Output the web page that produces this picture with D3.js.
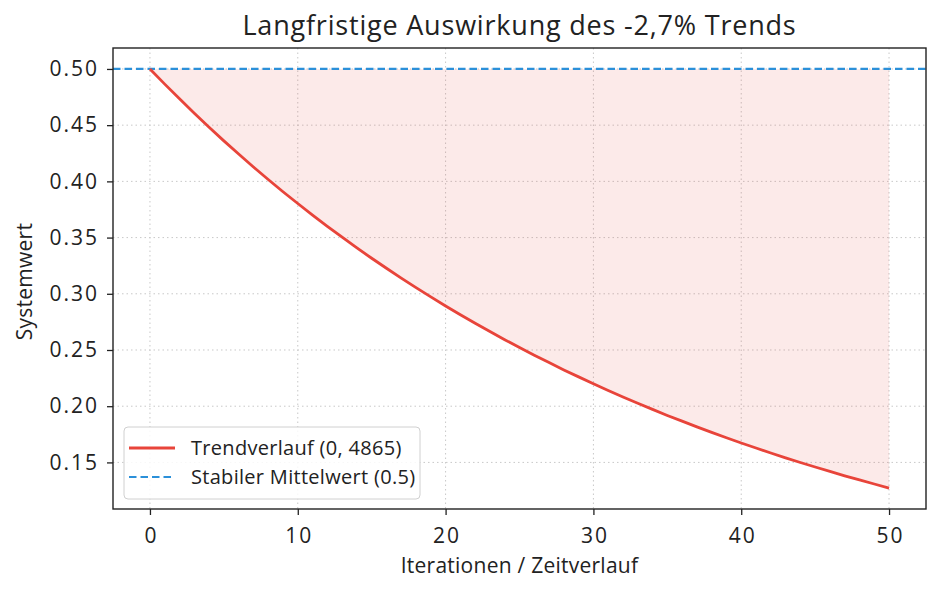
<!DOCTYPE html>
<html>
<head>
<meta charset="utf-8">
<script src="https://cdn.jsdelivr.net/npm/d3@7"></script>
<style>
  body { margin: 0; background: #fff; }
  svg { font-family: "Open Sans", "DejaVu Sans", sans-serif; }
</style>
</head>
<body>
<div id="chart"></div>
<script>
const trendColor = "#e8443a";
const meanColor = "#2b90d9";

// iterations 0..50 and the read-off system value per iteration
const iterations = d3.range(0, 51);
const trendValues = [
    0.5000, 0.4865, 0.4734, 0.4606, 0.4481, 0.4360, 0.4243, 0.4128, 0.4017, 0.3908,
    0.3803, 0.3700, 0.3600, 0.3503, 0.3408, 0.3316, 0.3227, 0.3140, 0.3055, 0.2972,
    0.2892, 0.2814, 0.2738, 0.2664, 0.2592, 0.2522, 0.2454, 0.2388, 0.2323, 0.2261,
    0.2200, 0.2140, 0.2082, 0.2026, 0.1972, 0.1918, 0.1867, 0.1816, 0.1767, 0.1719,
    0.1673, 0.1628, 0.1584, 0.1541, 0.1499, 0.1459, 0.1420, 0.1381, 0.1344, 0.1308,
    0.1272
];
const stableMean = 0.5;
const xTicks = [0, 10, 20, 30, 40, 50];
const yTicks = [0.15, 0.20, 0.25, 0.30, 0.35, 0.40, 0.45, 0.50];
const legendLabels = ["Trendverlauf (0, 4865)", "Stabiler Mittelwert (0.5)"];

const totalWidth = 941, totalHeight = 592;
const margins = { left: 113, right: 15, top: 48, bottom: 83 };
const width = totalWidth - margins.left - margins.right;
const height = totalHeight - margins.top - margins.bottom;

const svg = d3.select("#chart").append("svg")
    .attr("width", totalWidth)
    .attr("height", totalHeight);
const g = svg.append("g").attr("transform", `translate(${margins.left},${margins.top})`);

// matplotlib style 5% padding on both axes
const xPad = (d3.max(iterations) - d3.min(iterations)) * 0.05;
const x = d3.scaleLinear().domain([d3.min(iterations) - xPad, d3.max(iterations) + xPad]).range([0, width]);
const yMin = d3.min(trendValues), yMax = d3.max(trendValues);
const yPad = (yMax - yMin) * 0.05;
const y = d3.scaleLinear().domain([yMin - yPad, yMax + yPad]).range([height, 0]);

// grid
g.append("g").selectAll("line").data(xTicks).join("line")
    .attr("x1", d => x(d)).attr("x2", d => x(d))
    .attr("y1", 0).attr("y2", height)
    .attr("stroke", "#c8c8c8").attr("stroke-width", 1).attr("stroke-dasharray", "1.5,3");
g.append("g").selectAll("line").data(yTicks).join("line")
    .attr("x1", 0).attr("x2", width)
    .attr("y1", d => y(d)).attr("y2", d => y(d))
    .attr("stroke", "#c8c8c8").attr("stroke-width", 1).attr("stroke-dasharray", "1.5,3");

// shaded area between trend and stable mean
g.append("path")
    .datum(trendValues)
    .attr("d", d3.area().x((d, i) => x(iterations[i])).y0(y(stableMean)).y1(d => y(d)))
    .attr("fill", trendColor)
    .attr("fill-opacity", 0.11);

// stable mean line
g.append("line")
    .attr("x1", 0).attr("x2", width)
    .attr("y1", y(stableMean)).attr("y2", y(stableMean))
    .attr("stroke", meanColor).attr("stroke-width", 2.2)
    .attr("stroke-dasharray", "7.5,4");

// trend line
g.append("path")
    .datum(trendValues)
    .attr("d", d3.line().x((d, i) => x(iterations[i])).y(d => y(d)))
    .attr("fill", "none")
    .attr("stroke", trendColor)
    .attr("stroke-width", 2.8);

// axes
const xAxisG = g.append("g").attr("transform", `translate(0,${height})`)
    .call(d3.axisBottom(x).tickValues(xTicks).tickFormat(d3.format("d")).tickSize(6).tickPadding(13));
const yAxisG = g.append("g")
    .call(d3.axisLeft(y).tickValues(yTicks).tickFormat(d3.format(".2f")).tickSize(6).tickPadding(8));
[xAxisG, yAxisG].forEach(a => {
    a.select(".domain").remove();
    a.selectAll(".tick line").attr("stroke", "#222").attr("stroke-width", 1.3);
    a.selectAll(".tick text").attr("fill", "#222").attr("font-size", "21px")
        .attr("letter-spacing", "2px")
        .attr("font-family", "\"Open Sans\", sans-serif");
});
xAxisG.selectAll(".tick text").attr("dx", "1px");

// frame
g.append("rect")
    .attr("width", width).attr("height", height)
    .attr("fill", "none").attr("stroke", "#222").attr("stroke-width", 1.4);

// title and labels
svg.append("text")
    .attr("x", margins.left + width / 2).attr("y", 35)
    .attr("text-anchor", "middle")
    .attr("font-size", "27px").attr("letter-spacing", "0.8px").attr("fill", "#222")
    .text("Langfristige Auswirkung des -2,7% Trends");
svg.append("text")
    .attr("x", margins.left + width / 2).attr("y", 573)
    .attr("text-anchor", "middle")
    .attr("font-size", "21px").attr("letter-spacing", "0.25px").attr("fill", "#222")
    .text("Iterationen / Zeitverlauf");
svg.append("text")
    .attr("transform", `translate(32,${margins.top + height / 2 + 3}) rotate(-90)`)
    .attr("text-anchor", "middle")
    .attr("font-size", "21px").attr("letter-spacing", "0.25px").attr("fill", "#222")
    .text("Systemwert");

// legend
const legend = g.append("g").attr("transform", "translate(11,379)");
legend.append("rect")
    .attr("width", 296).attr("height", 72).attr("rx", 4)
    .attr("fill", "#fff").attr("fill-opacity", 0.85)
    .attr("stroke", "#d0d0d0").attr("stroke-width", 1);
const legendRows = legend.selectAll(".row").data(legendLabels).join("g")
    .attr("transform", (d, i) => `translate(0,${21 + i * 29})`);
legendRows.append("line")
    .attr("x1", 5).attr("x2", 51)
    .attr("stroke", (d, i) => i === 0 ? trendColor : meanColor)
    .attr("stroke-width", (d, i) => i === 0 ? 2.8 : 2.2)
    .attr("stroke-dasharray", (d, i) => i === 0 ? null : "7.5,4");
legendRows.append("text")
    .attr("x", 67).attr("dy", "0.35em")
    .attr("font-size", "20px").attr("letter-spacing", "0.3px").attr("fill", "#222")
    .text(d => d);
</script>
</body>
</html>
